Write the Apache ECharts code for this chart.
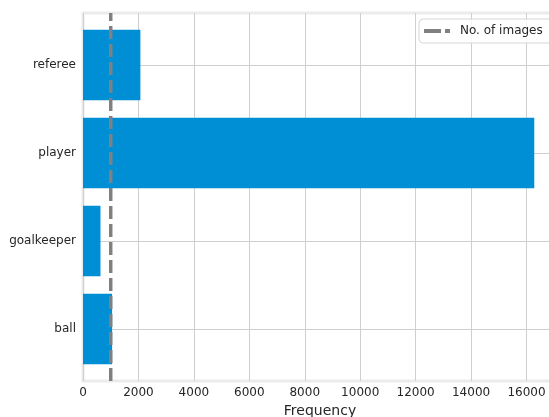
<!DOCTYPE html>
<html>
<head>
<meta charset="utf-8">
<style>
  html, body { margin: 0; padding: 0; background: #ffffff; }
  #chart { width: 549px; height: 417px; }
</style>
<script src="https://cdn.jsdelivr.net/npm/echarts@6/dist/echarts.min.js"></script>
</head>
<body>
<div id="chart"></div>
<script>
// Object classes, listed bottom to top
const categories = ['ball', 'goalkeeper', 'player', 'referee'];
// Number of annotated instances per class
const frequencies = [1050, 630, 16280, 2070];
// Reference level drawn as a dashed vertical line
const imageCount = 1000;
const imageLabel = 'No. of images';
const xTicks = [0, 2000, 4000, 6000, 8000, 10000, 12000, 14000, 16000];

const FONT = 'DejaVu Sans';
const TEXT = '#262626';

const chart = echarts.init(document.getElementById('chart'), null, { renderer: 'canvas' });

const barData = categories.map((c, i) => [frequencies[i], i]);

chart.setOption({
  backgroundColor: '#ffffff',
  animation: false,
  textStyle: { fontFamily: FONT },
  grid: {
    left: 83, right: -8, top: 13, bottom: 36,
    outerBoundsMode: 'none',
    containLabel: false,
    show: true, borderColor: '#ebebeb', borderWidth: 3, backgroundColor: 'transparent'
  },
  legend: {
    data: [{ name: imageLabel, icon: 'path://M0,0H17V4H0Z M21,0H26V4H21Z' }],
    left: 419, top: 19,
    padding: [5, 12, 5, 5],
    itemWidth: 26, itemHeight: 4, itemGap: 0,
    backgroundColor: 'rgba(255,255,255,0.8)',
    borderColor: '#d6d6d6', borderWidth: 1, borderRadius: 4,
    textStyle: { fontFamily: FONT, fontSize: 12, color: TEXT, padding: [0, 0, 0, 5], lineHeight: 14 }
  },
  xAxis: {
    type: 'value',
    min: 0, max: 17100, interval: 2000,
    axisLine: { show: false },
    axisTick: { show: false },
    axisLabel: {
      fontFamily: FONT, fontSize: 12, color: TEXT, margin: 6,
      formatter: v => (xTicks.indexOf(v) >= 0 ? String(v) : '')
    },
    splitLine: { show: true, lineStyle: { color: '#cfcfcf', width: 1 } },
    name: 'Frequency',
    nameLocation: 'middle',
    nameGap: 22,
    nameTextStyle: { fontFamily: FONT, fontSize: 14, color: TEXT }
  },
  yAxis: {
    type: 'value',
    min: -0.59, max: 3.59,
    minInterval: 1, maxInterval: 1,
    axisLine: { show: false },
    axisTick: { show: false },
    axisLabel: {
      fontFamily: FONT, fontSize: 12, color: TEXT, margin: 7,
      showMinLabel: false, showMaxLabel: false,
      formatter: v => {
        const i = Math.round(v);
        return Math.abs(v - i) < 1e-6 && categories[i] ? categories[i] : '';
      }
    },
    splitLine: { show: true, showMinLine: false, showMaxLine: false, lineStyle: { color: '#cfcfcf', width: 1 } }
  },
  series: [
    {
      name: 'Frequency',
      type: 'custom',
      data: barData,
      encode: { x: 0, y: 1 },
      z: 2,
      renderItem: function (params, api) {
        const idx = api.value(1);
        const val = api.value(0);
        const p0 = api.coord([0, idx + 0.4]);
        const p1 = api.coord([val, idx - 0.4]);
        return {
          type: 'rect',
          shape: { x: p0[0], y: p0[1], width: p1[0] - p0[0], height: p1[1] - p0[1] },
          style: { fill: '#008fd5' }
        };
      }
    },
    {
      name: imageLabel,
      type: 'line',
      data: [[imageCount, -0.59], [imageCount, 3.59]],
      symbol: 'none',
      z: 4,
      lineStyle: { color: '#808080', width: 3.5, type: [13, 5] },
      itemStyle: { color: '#808080' }
    }
  ]
});
</script>
</body>
</html>
